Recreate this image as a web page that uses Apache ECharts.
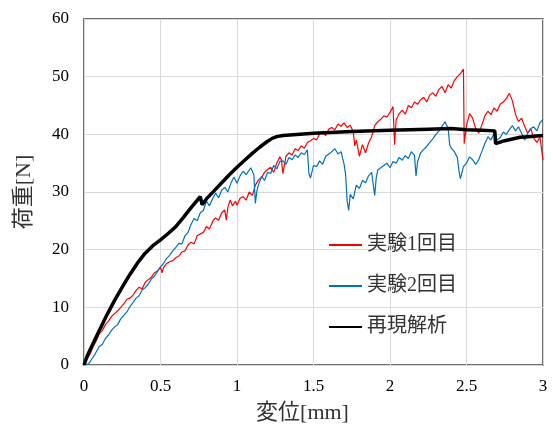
<!DOCTYPE html>
<html>
<head>
    <meta charset="utf-8">
    <title>荷重-変位</title>
    <script src="https://cdn.jsdelivr.net/npm/echarts@6/dist/echarts.min.js"></script>
    <style type="text/css">
        * {
            margin: 0;
            padding: 0;
        }

        body {
            background: #fff;
            overflow: hidden;
        }
    </style>
</head>
<body>
<div id="main" style="width: 553px;height: 433px;"></div>
<script type="text/javascript">
    // 実験1回目 [変位mm, 荷重N]
    var exp1 = [
        [0, 0], [0.02, 1.0], [0.04, 1.9], [0.06, 3.2], [0.08, 4.2], [0.10, 5.4], [0.12, 6.0], [0.14, 7.0],
        [0.16, 7.6], [0.18, 8.4], [0.20, 8.9], [0.22, 9.4], [0.24, 10.0], [0.26, 10.6], [0.28, 11.4],
        [0.30, 11.6], [0.32, 12.1], [0.34, 12.9], [0.36, 13.5], [0.38, 13.2], [0.40, 14.3], [0.42, 14.8],
        [0.44, 15.2], [0.46, 16.0], [0.48, 16.3], [0.50, 17.0], [0.51, 16.0], [0.52, 16.9], [0.54, 17.6],
        [0.56, 17.9], [0.58, 18.1], [0.60, 18.6], [0.62, 18.9], [0.64, 19.6], [0.66, 19.8], [0.68, 20.8],
        [0.70, 21.3], [0.72, 21.0], [0.74, 22.4], [0.76, 22.7], [0.78, 23.0], [0.80, 24.0], [0.82, 23.6],
        [0.845, 25.1], [0.86, 25.5], [0.88, 25.1], [0.90, 26.4], [0.92, 26.9], [0.93, 25.1], [0.94, 27.3],
        [0.955, 28.6], [0.97, 27.6], [0.99, 28.4], [1.00, 27.7], [1.02, 28.9], [1.04, 29.2], [1.06, 28.6],
        [1.08, 30.0], [1.10, 29.4], [1.12, 31.2], [1.14, 32.1], [1.16, 32.5], [1.18, 33.4], [1.20, 33.9],
        [1.22, 34.3], [1.24, 33.4], [1.26, 35.0], [1.28, 36.1], [1.29, 35.6], [1.30, 33.2], [1.32, 36.2],
        [1.34, 36.8], [1.36, 36.4], [1.38, 37.5], [1.40, 37.2], [1.42, 38.0], [1.44, 37.6], [1.46, 38.6],
        [1.48, 38.9], [1.50, 39.3], [1.52, 39.0], [1.54, 40.1], [1.56, 40.3], [1.58, 39.8], [1.60, 40.9],
        [1.62, 41.2], [1.64, 40.8], [1.66, 41.8], [1.68, 41.4], [1.70, 42.0], [1.72, 41.2], [1.74, 41.6],
        [1.76, 40.4], [1.77, 38.0], [1.78, 39.0], [1.80, 36.2], [1.82, 38.2], [1.84, 36.8], [1.86, 38.5],
        [1.88, 39.6], [1.90, 41.5], [1.92, 42.2], [1.94, 42.6], [1.96, 43.2], [1.98, 43.0], [2.00, 43.8],
        [2.02, 44.8], [2.03, 38.2], [2.04, 42.5], [2.06, 43.6], [2.08, 44.2], [2.10, 43.5], [2.12, 45.0],
        [2.14, 44.6], [2.16, 45.6], [2.18, 45.2], [2.20, 46.0], [2.22, 46.4], [2.24, 45.6], [2.26, 46.8],
        [2.28, 47.2], [2.30, 46.6], [2.32, 47.8], [2.34, 48.3], [2.36, 47.2], [2.38, 48.6], [2.40, 48.0],
        [2.42, 49.3], [2.44, 50.0], [2.46, 50.5], [2.48, 51.3], [2.485, 38.4], [2.50, 41.5], [2.52, 43.6],
        [2.54, 42.8], [2.56, 41.0], [2.58, 40.2], [2.60, 41.6], [2.62, 43.2], [2.64, 44.0], [2.66, 43.4],
        [2.68, 44.6], [2.70, 44.0], [2.72, 45.2], [2.74, 45.6], [2.76, 46.2], [2.78, 47.1], [2.80, 45.8],
        [2.82, 43.5], [2.84, 42.2], [2.86, 42.8], [2.88, 41.4], [2.90, 40.2], [2.92, 41.0], [2.94, 39.3],
        [2.96, 38.6], [2.98, 39.5], [3.00, 35.5]
    ];
    // 実験2回目
    var exp2 = [
        [0, 0], [0.03, 0.2], [0.05, 1.0], [0.07, 1.8], [0.10, 3.2], [0.12, 3.6], [0.14, 4.6], [0.16, 5.2],
        [0.18, 6.0], [0.20, 6.6], [0.22, 7.0], [0.24, 8.0], [0.26, 8.6], [0.28, 9.2], [0.30, 10.1],
        [0.32, 10.8], [0.34, 11.6], [0.36, 12.0], [0.38, 13.0], [0.40, 13.4], [0.42, 14.0], [0.44, 14.9],
        [0.46, 15.4], [0.48, 16.2], [0.50, 17.0], [0.52, 17.6], [0.54, 18.5], [0.56, 19.0], [0.58, 19.8],
        [0.60, 20.4], [0.62, 21.1], [0.64, 21.0], [0.66, 22.4], [0.68, 23.0], [0.70, 24.4], [0.72, 25.4],
        [0.74, 25.0], [0.76, 26.4], [0.78, 26.8], [0.80, 28.4], [0.82, 27.6], [0.84, 28.8], [0.86, 29.8],
        [0.88, 29.0], [0.90, 30.3], [0.92, 30.8], [0.94, 30.0], [0.96, 31.5], [0.98, 32.6], [1.00, 31.5],
        [1.02, 32.8], [1.04, 33.6], [1.06, 33.0], [1.09, 34.2], [1.11, 33.0], [1.12, 28.0], [1.13, 30.2],
        [1.14, 31.2], [1.16, 32.7], [1.18, 32.0], [1.20, 33.4], [1.22, 33.2], [1.24, 34.6], [1.26, 34.0],
        [1.28, 35.3], [1.30, 35.4], [1.32, 34.8], [1.34, 36.0], [1.36, 35.6], [1.38, 36.4], [1.40, 36.0],
        [1.42, 36.8], [1.44, 36.5], [1.46, 37.3], [1.47, 33.2], [1.48, 32.4], [1.50, 34.6], [1.52, 34.4],
        [1.54, 35.4], [1.56, 34.8], [1.58, 36.2], [1.60, 36.6], [1.62, 37.0], [1.64, 37.5], [1.66, 36.6],
        [1.68, 37.0], [1.70, 34.8], [1.71, 33.0], [1.72, 28.4], [1.73, 26.8], [1.74, 29.6], [1.76, 28.8],
        [1.78, 31.2], [1.80, 30.6], [1.82, 32.0], [1.84, 31.6], [1.86, 32.8], [1.88, 33.4], [1.90, 29.4],
        [1.91, 32.5], [1.92, 33.8], [1.94, 34.2], [1.96, 34.6], [1.98, 35.0], [2.00, 34.2], [2.02, 35.3],
        [2.04, 35.0], [2.06, 36.0], [2.08, 35.5], [2.10, 36.3], [2.12, 35.8], [2.14, 37.0], [2.16, 36.4],
        [2.17, 32.8], [2.18, 35.2], [2.20, 36.8], [2.22, 37.4], [2.24, 37.9], [2.26, 38.6], [2.28, 39.2],
        [2.30, 40.0], [2.32, 40.6], [2.34, 41.4], [2.36, 42.2], [2.38, 41.0], [2.39, 38.2], [2.40, 37.6],
        [2.42, 37.0], [2.44, 36.0], [2.45, 33.8], [2.46, 32.3], [2.48, 34.4], [2.50, 35.0], [2.52, 36.1],
        [2.54, 35.6], [2.56, 34.8], [2.58, 35.6], [2.60, 37.0], [2.62, 38.4], [2.64, 39.6], [2.66, 39.0],
        [2.68, 40.2], [2.70, 39.0], [2.72, 39.4], [2.74, 40.4], [2.76, 40.0], [2.78, 40.8], [2.80, 41.5],
        [2.82, 40.6], [2.84, 41.3], [2.86, 40.2], [2.88, 39.0], [2.90, 40.2], [2.92, 41.0], [2.94, 41.3],
        [2.96, 40.6], [2.98, 42.0], [3.00, 42.6]
    ];
    // 再現解析
    var sim = [
        [0, 0], [0.02, 1.5], [0.05, 3.2], [0.10, 6.0], [0.15, 8.7], [0.20, 11.2], [0.25, 13.5],
        [0.30, 15.7], [0.35, 17.7], [0.40, 19.4], [0.45, 20.7], [0.50, 21.7], [0.55, 22.8], [0.60, 24.0],
        [0.65, 25.6], [0.70, 27.3], [0.76, 29.2], [0.772, 27.8], [0.80, 28.8], [0.85, 30.2], [0.90, 31.6],
        [0.95, 33.0], [1.00, 34.3], [1.05, 35.5], [1.10, 36.7], [1.15, 37.8], [1.20, 38.8], [1.23, 39.3],
        [1.26, 39.6], [1.30, 39.8], [1.50, 40.2], [1.75, 40.5], [2.00, 40.7], [2.25, 40.9], [2.40, 41.0],
        [2.50, 40.8], [2.60, 40.7], [2.685, 40.6], [2.69, 38.4], [2.75, 38.9], [2.80, 39.2], [2.85, 39.5],
        [2.90, 39.6], [3.00, 39.8]
    ];
    var names = ['実験1回目', '実験2回目', '再現解析'];
    var xTicks = { min: 0, max: 3, step: 0.5 };
    var yTicks = { min: 0, max: 60, step: 10 };

    var font = "'Liberation Serif', 'Noto Sans CJK JP', serif";
    var myChart = echarts.init(document.getElementById('main'));
    var option = {
        animation: false,
        grid: {
            left: 84,
            right: 10,
            top: 19,
            bottom: 68,
            show: true,
            borderColor: '#404040',
            borderWidth: 1.5
        },
        legend: {
            orient: 'vertical',
            left: 323,
            top: 230,
            itemWidth: 33,
            itemHeight: 14,
            itemGap: 21,
            itemStyle: {
                color: 'rgba(0,0,0,0)',
                borderWidth: 0,
                opacity: 0
            },
            textStyle: {
                fontFamily: font,
                fontSize: 20,
                color: '#333'
            },
            data: names
        },
        xAxis: {
            type: 'value',
            min: xTicks.min,
            max: xTicks.max,
            interval: xTicks.step,
            name: '変位[mm]',
            nameLocation: 'middle',
            nameGap: 37,
            nameTextStyle: {
                fontFamily: font,
                fontSize: 22,
                color: '#333',
                padding: [0, 22, 0, 0]
            },
            axisLine: { show: false },
            axisTick: { show: false },
            axisLabel: {
                margin: 13,
                fontFamily: font,
                fontSize: 17,
                color: '#000'
            },
            splitLine: {
                lineStyle: { color: '#d9d9d9', width: 1 }
            }
        },
        yAxis: {
            type: 'value',
            min: yTicks.min,
            max: yTicks.max,
            interval: yTicks.step,
            name: '荷重[N]',
            nameLocation: 'middle',
            nameGap: 49,
            nameTextStyle: {
                fontFamily: font,
                fontSize: 22,
                color: '#333'
            },
            axisLine: { show: false },
            axisTick: { show: false },
            axisLabel: {
                margin: 15,
                fontFamily: font,
                fontSize: 17,
                color: '#000'
            },
            splitLine: {
                lineStyle: { color: '#d9d9d9', width: 1 }
            }
        },
        series: [{
            name: names[0],
            type: 'line',
            symbol: 'none',
            lineStyle: { color: '#ff0000', width: 1.2 },
            itemStyle: { color: '#ff0000' },
            data: exp1
        }, {
            name: names[1],
            type: 'line',
            symbol: 'none',
            lineStyle: { color: '#0070c0', width: 1.2 },
            itemStyle: { color: '#0070c0' },
            data: exp2
        }, {
            name: names[2],
            type: 'line',
            symbol: 'none',
            lineStyle: { color: '#000', width: 3.5 },
            itemStyle: { color: '#000' },
            data: sim
        }]
    };
    myChart.setOption(option);
</script>
</body>
</html>
